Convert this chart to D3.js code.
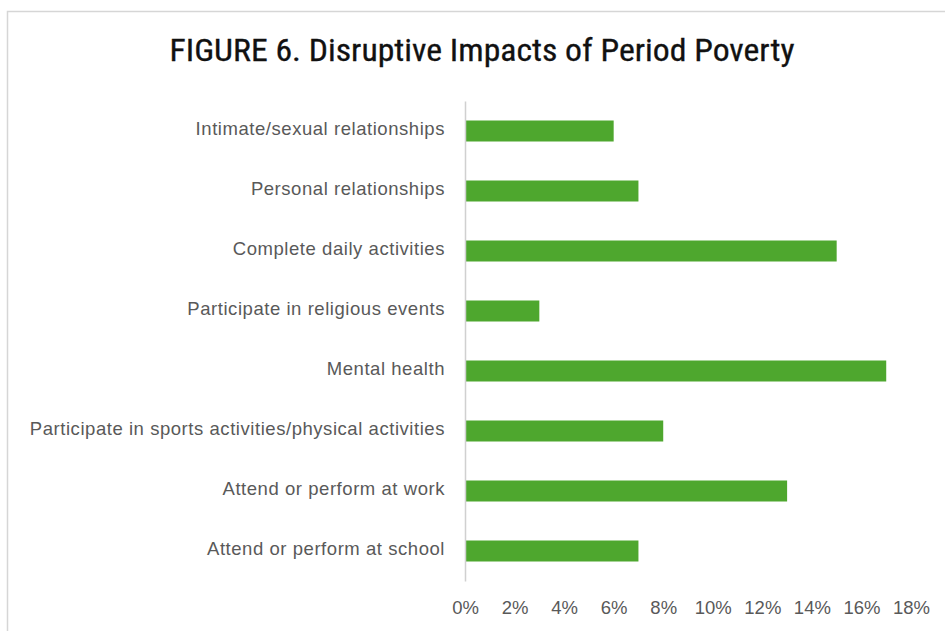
<!DOCTYPE html>
<html>
<head>
<meta charset="utf-8">
<script src="https://cdn.jsdelivr.net/npm/d3@7"></script>
<style>
  html, body { margin: 0; padding: 0; background: #fff; }
  svg { display: block; }
</style>
</head>
<body>
<svg id="chart" width="945" height="631"></svg>
<script>
// Categories from top to bottom and their shares of respondents
const categories = [
  "Intimate/sexual relationships",
  "Personal relationships",
  "Complete daily activities",
  "Participate in religious events",
  "Mental health",
  "Participate in sports activities/physical activities",
  "Attend or perform at work",
  "Attend or perform at school"
];
const values = [0.06, 0.07, 0.15, 0.03, 0.17, 0.08, 0.13, 0.07];
const tickValues = [0, 0.02, 0.04, 0.06, 0.08, 0.10, 0.12, 0.14, 0.16, 0.18];
const title = "FIGURE 6. Disruptive Impacts of Period Poverty";

const svg = d3.select("#chart");
const W = 945, H = 631;

// Chart frame
svg.append("rect")
  .attr("x", 7.5).attr("y", 11.5)
  .attr("width", W + 20).attr("height", H + 20)
  .attr("fill", "#fff")
  .attr("stroke", "#d6d6d6")
  .attr("stroke-width", 1.5);

// Title
svg.append("text")
  .attr("x", 482).attr("y", 61)
  .attr("text-anchor", "middle")
  .attr("font-family", "'Liberation Sans Narrow', 'Roboto Condensed', 'DejaVu Sans Condensed', sans-serif")
  .attr("font-size", 31)
  .attr("fill", "#111")
  .attr("stroke", "#111")
  .attr("stroke-width", 0.3)
  .attr("textLength", 625)
  .attr("lengthAdjust", "spacingAndGlyphs")
  .text(title);

const x = d3.scaleLinear().domain([0, 0.18]).range([465, 911]);
const y = d3.scaleBand().domain(categories).range([101, 581]).paddingInner(0.65).paddingOuter(0.325);

const data = categories.map((c, i) => ({ c, v: values[i] }));

// Bars
svg.append("g").selectAll("rect")
  .data(data)
  .join("rect")
  .attr("x", x(0) + 1)
  .attr("y", d => y(d.c))
  .attr("width", d => x(d.v) - x(0) - 1)
  .attr("height", y.bandwidth())
  .attr("fill", "#4ea72e");

// Category axis
const yAxis = svg.append("g")
  .attr("transform", `translate(${x(0)},0)`)
  .call(d3.axisLeft(y).tickSize(0).tickPadding(20));
yAxis.select(".domain").attr("stroke", "#d0d0d0").attr("stroke-width", 1.5);
yAxis.selectAll("text")
  .attr("font-family", "'Liberation Sans', Arial, sans-serif")
  .attr("font-size", 18.5)
  .attr("letter-spacing", 0.55)
  .attr("dy", "0.22em")
  .attr("fill", "#595959");

// Value axis labels
const xAxis = svg.append("g")
  .attr("transform", `translate(0,581)`)
  .call(d3.axisBottom(x).tickValues(tickValues).tickFormat(d3.format(".0%")).tickSize(0).tickPadding(20));
xAxis.select(".domain").remove();
xAxis.selectAll("text")
  .attr("font-family", "'Liberation Sans', Arial, sans-serif")
  .attr("font-size", 18.5)
  .attr("fill", "#595959");
</script>
</body>
</html>
